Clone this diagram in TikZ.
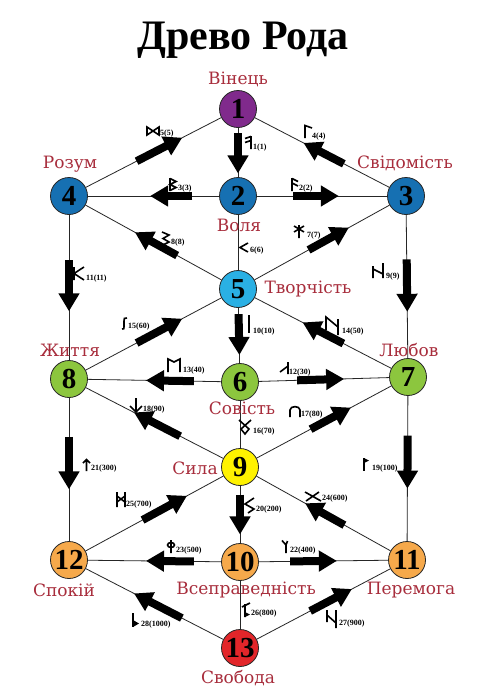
\documentclass[tikz,border=0pt]{standalone}
\usepackage{fontspec}
\setmainfont{Liberation Serif}
\newfontfamily\lblfont{DejaVu Serif}
\usetikzlibrary{arrows.meta,calc}
\definecolor{lblred}{RGB}{168,45,60}
\definecolor{cpurple}{RGB}{128,42,140}
\definecolor{cblue}{RGB}{22,112,178}
\definecolor{clblue}{RGB}{42,176,228}
\definecolor{cgreen}{RGB}{140,198,62}
\definecolor{cyellow}{RGB}{255,242,0}
\definecolor{corange}{RGB}{246,169,75}
\definecolor{cred}{RGB}{226,38,42}
\tikzset{
  vert/.style={circle, draw=black!85, line width=0.8pt, minimum size=37pt, inner sep=0pt,
    font=\fontsize{29}{29}\selectfont\bfseries},
  edge/.style={line width=0.8pt, black!85},
  blk/.style={line width=8pt, -{Triangle[length=18pt,width=20pt]}},
  lbl/.style={text=lblred, font=\lblfont\fontsize{17}{17}\selectfont, inner sep=0pt},
  num/.style={font=\fontsize{8}{8}\selectfont\bfseries, inner sep=0pt},
  runestroke/.style={line width=1.6pt},
  r1/.pic={\draw[runestroke] (6,0)--(6,13) (6,0.5)--(0,2.5) (6,4.5)--(0,6.5);},
  r2/.pic={\draw[runestroke] (0,0)--(0,13) (0,0.5)--(6,3.5) (0,5)--(6,8);},
  r3/.pic={\draw[runestroke,line join=miter] (0,0)--(0,13) (0,0.5)--(6,3.5)--(0,6.5)--(6,9.5)--(0,12.5);},
  r4/.pic={\draw[runestroke] (0,13)--(0,0.5)--(7,3);},
  r5/.pic={\draw[runestroke,line join=miter] (0,0)--(0,8)--(12,0)--(12,8)--cycle;},
  r6/.pic={\draw[runestroke] (8,0)--(0,4.5)--(8,9);},
  r7/.pic={\draw[runestroke] (6,0)--(6,13) (1,1)--(11,7) (1,7)--(11,1);},
  r8/.pic={\draw[runestroke,line join=miter] (0,0)--(7,3)--(1,6.5)--(7,10)--(1,13);},
  r9/.pic={\draw[runestroke] (0,3)--(0,15) (10,0)--(10,15) (0,6)--(10,11);},
  r10/.pic={\draw[runestroke] (0,0)--(0,18);},
  r11/.pic={\draw[runestroke] (0,0)--(0,13) (10,0)--(0,6.5)--(10,13);},
  r12/.pic={\draw[runestroke] (8,0)--(8,12) (0,10)--(8,4);},
  r13/.pic={\draw[runestroke,line join=miter] (0,13)--(0,0)--(6,3)--(12,0)--(12,13);},
  r14/.pic={\draw[runestroke] (0,13)--(0,0)--(12,10) (12,2)--(12,18);},
  r15/.pic={\draw[runestroke] (5,0) .. controls (2,0) .. (2,3) -- (2,9) .. controls (2,11) .. (0,11);},
  r16/.pic={\draw[runestroke,line join=miter] (0,0)--(10,9)--(6,14)--(2,9)--(12,0);},
  r17/.pic={\draw[runestroke] (0,11)--(0,4) .. controls (0,-0.5) and (10,-0.5) .. (10,4) -- (10,11);},
  r18/.pic={\draw[runestroke] (6,0)--(6,14) (0,8)--(6,14)--(12,8);},
  r19/.pic={\draw[runestroke] (0,0)--(0,13); \fill (0,0)--(5,2.5)--(0,5)--cycle;},
  r20/.pic={\draw[runestroke,line join=miter] (9,0)--(0,6)--(9,11)--(3,15);},
  r21/.pic={\draw[runestroke] (3.5,0.5)--(3.5,12) (0,4)--(3.5,0.5)--(7,4);},
  r22/.pic={\draw[runestroke] (0,0.5)--(4,5)--(4,13) (4,5)--(5.5,1);},
  r23/.pic={\draw[runestroke] (4,0)--(4,13) (4,5) ellipse (3.5 and 2.5);},
  r24/.pic={\draw[runestroke] (0,0)--(16,9) (1,9)--(14,0);},
  r25/.pic={\draw[runestroke] (0,0)--(0,15) (8,0)--(8,15) (0,4)--(8,10) (0,10)--(8,4);},
  r26/.pic={\draw[runestroke] (0,4)--(8,0) (3,1)--(3,14); \fill (3,9)--(8,11.5)--(3,14)--cycle;},
  r27/.pic={\draw[runestroke] (0,0)--(0,12) (0,5)--(9,13) (9,0)--(9,18);},
  r28/.pic={\draw[runestroke] (0,0)--(0,14); \fill (0,7)--(6,10.5)--(0,14)--cycle;},
}
\newcommand\BArrow[4]{\draw[blk] ($(#1)!#3!(#2)$) -- ($(#1)!#4!(#2)$);}
\newcommand\RLabel[6]{\pic at (#2,#3) {#1}; \node[num,anchor=base west] (t#1) at (#4,#5) {#6};}
\begin{document}
\begin{tikzpicture}[x=1pt,y=-1pt]
\useasboundingbox (0,0) rectangle (494,699);
\fill[white] (0,0) rectangle (494,699);
% title
\node[font=\fontsize{42}{42}\selectfont\bfseries, anchor=base, inner sep=0pt] (title) at (243,49) {Древо Рода};
% vertices
\node[vert, fill=cpurple] (n1) at (238,109) {1};
\node[vert, fill=cblue] (n2) at (238,196) {2};
\node[vert, fill=cblue] (n3) at (406,196) {3};
\node[vert, fill=cblue] (n4) at (69,196) {4};
\node[vert, fill=clblue] (n5) at (238,289) {5};
\node[vert, fill=cgreen] (n6) at (240,382) {6};
\node[vert, fill=cgreen] (n7) at (408,377) {7};
\node[vert, fill=cgreen] (n8) at (69,379) {8};
\node[vert, fill=cyellow] (n9) at (240,467) {9};
\node[vert, fill=corange] (n10) at (240,562) {10};
\node[vert, fill=corange] (n11) at (407,560) {11};
\node[vert, fill=corange] (n12) at (69,560) {12};
\node[vert, fill=cred] (n13) at (240,648) {13};
% edges
\foreach \a/\b in {n1/n2,n1/n4,n1/n3,n2/n4,n2/n3,n2/n5,n4/n5,n5/n3,n4/n8,n3/n7,
  n8/n5,n5/n7,n5/n6,n8/n6,n6/n7,n8/n9,n9/n7,n6/n9,n8/n12,n7/n11,
  n12/n9,n9/n11,n9/n10,n12/n10,n10/n11,n12/n13,n13/n11,n10/n13}
  \draw[edge] (\a) -- (\b);
% block arrows
\BArrow{n1}{n2}{0.28}{0.74}
\BArrow{n2}{n3}{0.33}{0.60}
\BArrow{n2}{n4}{0.27}{0.52}
\BArrow{n4}{n1}{0.40}{0.67}
\BArrow{n3}{n1}{0.37}{0.61}
\BArrow{n5}{n4}{0.36}{0.61}
\BArrow{n5}{n3}{0.42}{0.66}
\BArrow{n4}{n8}{0.35}{0.63}
\BArrow{n3}{n7}{0.35}{0.64}
\BArrow{n8}{n5}{0.40}{0.67}
\BArrow{n5}{n6}{0.27}{0.71}
\BArrow{n7}{n5}{0.38}{0.62}
\BArrow{n6}{n8}{0.27}{0.55}
\BArrow{n6}{n7}{0.34}{0.62}
\BArrow{n9}{n8}{0.35}{0.62}
\BArrow{n9}{n7}{0.42}{0.66}
\BArrow{n8}{n12}{0.32}{0.61}
\BArrow{n7}{n11}{0.32}{0.61}
\BArrow{n12}{n9}{0.43}{0.69}
\BArrow{n9}{n10}{0.29}{0.71}
\BArrow{n11}{n9}{0.375}{0.61}
\BArrow{n10}{n12}{0.27}{0.55}
\BArrow{n10}{n11}{0.30}{0.58}
\BArrow{n13}{n12}{0.34}{0.62}
\BArrow{n13}{n11}{0.42}{0.67}
% names
\node[lbl] (w1) at (238,79) {Вінець};
\node[lbl] (w4) at (70,164) {Розум};
\node[lbl] (w3) at (405,163) {Свідомість};
\node[lbl] (w2) at (239,225) {Воля};
\node[lbl] (w5) at (308,289) {Творчість};
\node[lbl] (w8) at (70,350) {Життя};
\node[lbl] (w7) at (409,350) {Любов};
\node[lbl] (w6) at (242,408) {Совість};
\node[lbl] (w9) at (195,468) {Сила};
\node[lbl] (w12) at (64,590) {Спокій};
\node[lbl] (w10) at (246,590) {Всеправедність};
\node[lbl] (w11) at (411,590) {Перемога};
\node[lbl] (w13) at (238,678) {Свобода};
% rune labels
\RLabel{r1}{245}{136}{253}{149}{1(1)}
\RLabel{r2}{292}{178}{299}{190}{2(2)}
\RLabel{r3}{170}{178}{178}{190}{3(3)}
\RLabel{r4}{305}{125}{312}{138}{4(4)}
\RLabel{r5}{147}{127}{160}{135}{5(5)}
\RLabel{r6}{240}{243}{250}{252}{6(6)}
\RLabel{r7}{293}{225}{307}{237}{7(7)}
\RLabel{r8}{162}{232}{171}{244}{8(8)}
\RLabel{r9}{373}{263}{386}{278}{9(9)}
\RLabel{r10}{249}{315}{253}{333}{10(10)}
\RLabel{r11}{74}{267}{86}{280}{11(11)}
\RLabel{r12}{280}{362}{289}{374}{12(30)}
\RLabel{r13}{168}{359}{183}{372}{13(40)}
\RLabel{r14}{326}{317}{342}{333}{14(50)}
\RLabel{r15}{122}{318}{128}{328}{15(60)}
\RLabel{r16}{239}{420}{253}{433}{16(70)}
\RLabel{r17}{290}{406}{301}{416}{17(80)}
\RLabel{r18}{130}{398}{143}{411}{18(90)}
\RLabel{r19}{364}{458}{372}{470}{19(100)}
\RLabel{r20}{245}{498}{256}{511}{20(200)}
\RLabel{r21}{83}{459}{91}{470}{21(300)}
\RLabel{r22}{282}{540}{290}{552}{22(400)}
\RLabel{r23}{167}{540}{176}{552}{23(500)}
\RLabel{r24}{305}{492}{322}{500}{24(600)}
\RLabel{r25}{117}{492}{126}{506}{25(700)}
\RLabel{r26}{242}{603}{251}{615}{26(800)}
\RLabel{r27}{327}{610}{339}{625}{27(900)}
\RLabel{r28}{133}{613}{141}{626}{28(1000)}
\end{tikzpicture}
\end{document}
